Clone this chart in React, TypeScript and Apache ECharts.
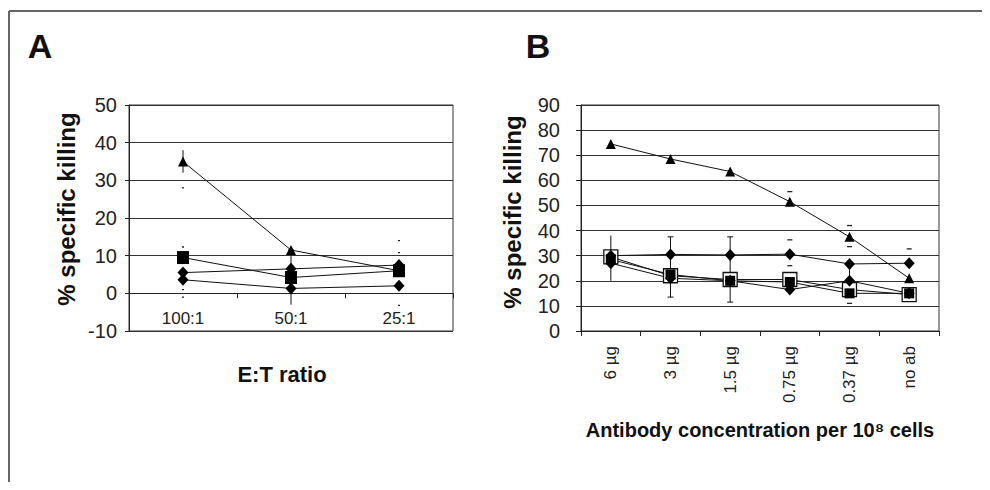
import React, { useEffect, useRef } from "react";
import * as echarts from "echarts";

// ---------- Panel A data ----------
const catsA = ["100:1", "50:1", "25:1"];
const triA = [35, 11.5, 6];
const sqA = [9.5, 4.2, 6];
const diaA1 = [5.5, 6.5, 7.5];
const diaA2 = [3.6, 1.3, 2];
// error bars [category index, low, high, cap half width]
const errLinesA = [
  [0, 32, 38, 0],
  [1, 5.5, 11.5, 3],
  [1, -3, 0, 0],
];
// small error-bar caps [category index, value, half width]
const errDotsA = [
  [0, 28, 1],
  [0, 12.3, 1],
  [0, 1, 1],
  [0, -1, 1],
  [2, 14, 1],
  [2, 10.8, 1],
  [2, -3.2, 1],
];

// ---------- Panel B data ----------
const catsB = ["6 µg", "3 µg", "1.5 µg", "0.75 µg", "0.37 µg", "no ab"];
const triB = [74.5, 68.5, 63.5, 51.5, 37.5, 21];
const diaB1 = [30, 30.5, 30.3, 30.6, 26.7, 27];
const openSqB = [29.5, 22, 20.5, 20.5, 16.5, 14.5];
const sqB = [28.5, 22.5, 20, 19.5, 15, 15];
const diaB2 = [27, 21, 20, 16.5, 20, 15];
const errLinesB = [
  [0, 20, 38, 0],
  [1, 13.5, 37.5, 3],
  [2, 11.5, 37.5, 3],
  [4, 20, 26.7, 0],
];
const errDotsB = [
  [3, 55.5, 2.5],
  [3, 36.3, 2.5],
  [3, 26, 2.5],
  [4, 42, 2.5],
  [4, 33.6, 2.5],
  [4, 11, 2.5],
  [5, 32.7, 2.5],
];

const FONT = "Liberation Sans, Arial, sans-serif";
const GRID_COLOR = "#333";

function errLineSeries(data: number[][], xi: number) {
  return {
    type: "custom",
    xAxisIndex: xi,
    yAxisIndex: xi,
    z: 1,
    encode: { x: 0, y: [1, 2] },
    data,
    renderItem: (_p: any, api: any) => {
      const x = api.value(0);
      const lo = api.coord([x, api.value(1)]);
      const hi = api.coord([x, api.value(2)]);
      const cap = api.value(3);
      const style = { stroke: "#111", lineWidth: 1 };
      const children: any[] = [
        { type: "line", shape: { x1: lo[0], y1: lo[1], x2: hi[0], y2: hi[1] }, style },
      ];
      if (cap > 0) {
        children.push({ type: "line", shape: { x1: lo[0] - cap, y1: lo[1], x2: lo[0] + cap, y2: lo[1] }, style });
        children.push({ type: "line", shape: { x1: hi[0] - cap, y1: hi[1], x2: hi[0] + cap, y2: hi[1] }, style });
      }
      return { type: "group", children };
    },
  };
}

function errDotSeries(data: number[][], xi: number) {
  return {
    type: "custom",
    xAxisIndex: xi,
    yAxisIndex: xi,
    z: 1,
    encode: { x: 0, y: 1 },
    data,
    renderItem: (_p: any, api: any) => {
      const p = api.coord([api.value(0), api.value(1)]);
      const w = api.value(2);
      return {
        type: "line",
        shape: { x1: p[0] - w, y1: p[1], x2: p[0] + w, y2: p[1] },
        style: { stroke: "#222", lineWidth: 1.3 },
      };
    },
  };
}

function lineSeries(data: number[], xi: number, symbol: string, size: any, extra: any = {}) {
  return {
    type: "line",
    xAxisIndex: xi,
    yAxisIndex: xi,
    data,
    symbol,
    symbolSize: size,
    showSymbol: true,
    lineStyle: { color: "#111", width: 1 },
    itemStyle: { color: "#000" },
    z: 3,
    ...extra,
  };
}

export default function App() {
  const ref = useRef<HTMLDivElement>(null);
  useEffect(() => {
    if (!ref.current) return;
    const chart = echarts.init(ref.current, undefined, { renderer: "svg" });
    const yLabel = { color: "#222", fontSize: 20, fontFamily: FONT };
    chart.setOption({
      animation: false,
      backgroundColor: "#fff",
      grid: [
        { left: 129, top: 105, width: 324, height: 226, show: true, borderColor: GRID_COLOR, borderWidth: 1 },
        { left: 581, top: 105, width: 358, height: 226, show: true, borderColor: GRID_COLOR, borderWidth: 1 },
      ],
      xAxis: [
        {
          type: "category",
          gridIndex: 0,
          data: catsA,
          boundaryGap: true,
          offset: -37.7,
          axisLine: { onZero: false, lineStyle: { color: "#222", width: 1 } },
          axisTick: { show: true, length: 5, lineStyle: { color: "#222" } },
          axisLabel: { color: "#222", fontSize: 17, fontFamily: FONT, margin: 17 },
        },
        {
          type: "category",
          gridIndex: 1,
          data: catsB,
          boundaryGap: true,
          axisLine: { lineStyle: { color: "#222", width: 1 } },
          axisTick: { show: true, length: 5, lineStyle: { color: "#222" } },
          axisLabel: { color: "#222", fontSize: 17, fontFamily: FONT, rotate: 90, margin: 15, interval: 0 },
        },
      ],
      yAxis: [
        {
          type: "value",
          gridIndex: 0,
          min: -10,
          max: 50,
          interval: 10,
          axisLine: { show: true, lineStyle: { color: "#222" } },
          axisTick: { show: true, length: 4, lineStyle: { color: "#222" } },
          axisLabel: { ...yLabel, margin: 12 },
          splitLine: { show: true, lineStyle: { color: GRID_COLOR, width: 1 } },
        },
        {
          type: "value",
          gridIndex: 1,
          min: 0,
          max: 90,
          interval: 10,
          axisLine: { show: true, lineStyle: { color: "#222" } },
          axisTick: { show: true, length: 5, lineStyle: { color: "#222" } },
          axisLabel: { ...yLabel, margin: 21 },
          splitLine: { show: true, lineStyle: { color: GRID_COLOR, width: 1 } },
        },
      ],
      series: [
        errLineSeries(errLinesA, 0),
        errDotSeries(errDotsA, 0),
        lineSeries(diaA2, 0, "diamond", [11, 12]),
        lineSeries(diaA1, 0, "diamond", [11, 12]),
        lineSeries(sqA, 0, "rect", [12, 13]),
        lineSeries(triA, 0, "triangle", [10, 10]),

        errLineSeries(errLinesB, 1),
        errDotSeries(errDotsB, 1),
        lineSeries(openSqB, 1, "rect", [14, 14], {
          itemStyle: { color: "#fff", borderColor: "#111", borderWidth: 1.3 },
        }),
        lineSeries(diaB2, 1, "diamond", [11, 12]),
        lineSeries(sqB, 1, "rect", [10, 10]),
        lineSeries(diaB1, 1, "diamond", [11, 12]),
        lineSeries(triB, 1, "triangle", [10, 10]),
      ],
      graphic: [
        { type: "line", shape: { x1: 9, y1: 11, x2: 990, y2: 11 }, style: { stroke: "#666", lineWidth: 2 } },
        { type: "line", shape: { x1: 9, y1: 11, x2: 9, y2: 490 }, style: { stroke: "#666", lineWidth: 2 } },
        {
          type: "text", x: 40, y: 46,
          style: { text: "A", font: `bold 34px ${FONT}`, fill: "#111", textAlign: "center", textVerticalAlign: "middle" },
        },
        {
          type: "text", x: 538, y: 46,
          style: { text: "B", font: `bold 34px ${FONT}`, fill: "#111", textAlign: "center", textVerticalAlign: "middle" },
        },
        {
          type: "text", x: 66, y: 209, rotation: Math.PI / 2,
          style: { text: "% specific killing", font: `bold 24px ${FONT}`, fill: "#111", textAlign: "center", textVerticalAlign: "middle" },
        },
        {
          type: "text", x: 512, y: 212, rotation: Math.PI / 2,
          style: { text: "% specific killing", font: `bold 24px ${FONT}`, fill: "#111", textAlign: "center", textVerticalAlign: "middle" },
        },
        {
          type: "text", x: 282, y: 374,
          style: { text: "E:T ratio", font: `bold 22px ${FONT}`, fill: "#111", textAlign: "center", textVerticalAlign: "middle" },
        },
        {
          type: "text", x: 760, y: 430,
          style: { text: "Antibody concentration per 10⁸ cells", font: `bold 20px ${FONT}`, fill: "#111", textAlign: "center", textVerticalAlign: "middle" },
        },
      ],
    });
    return () => chart.dispose();
  }, []);
  return <div ref={ref} style={{ width: 990, height: 490, margin: -8 }} />;
}
